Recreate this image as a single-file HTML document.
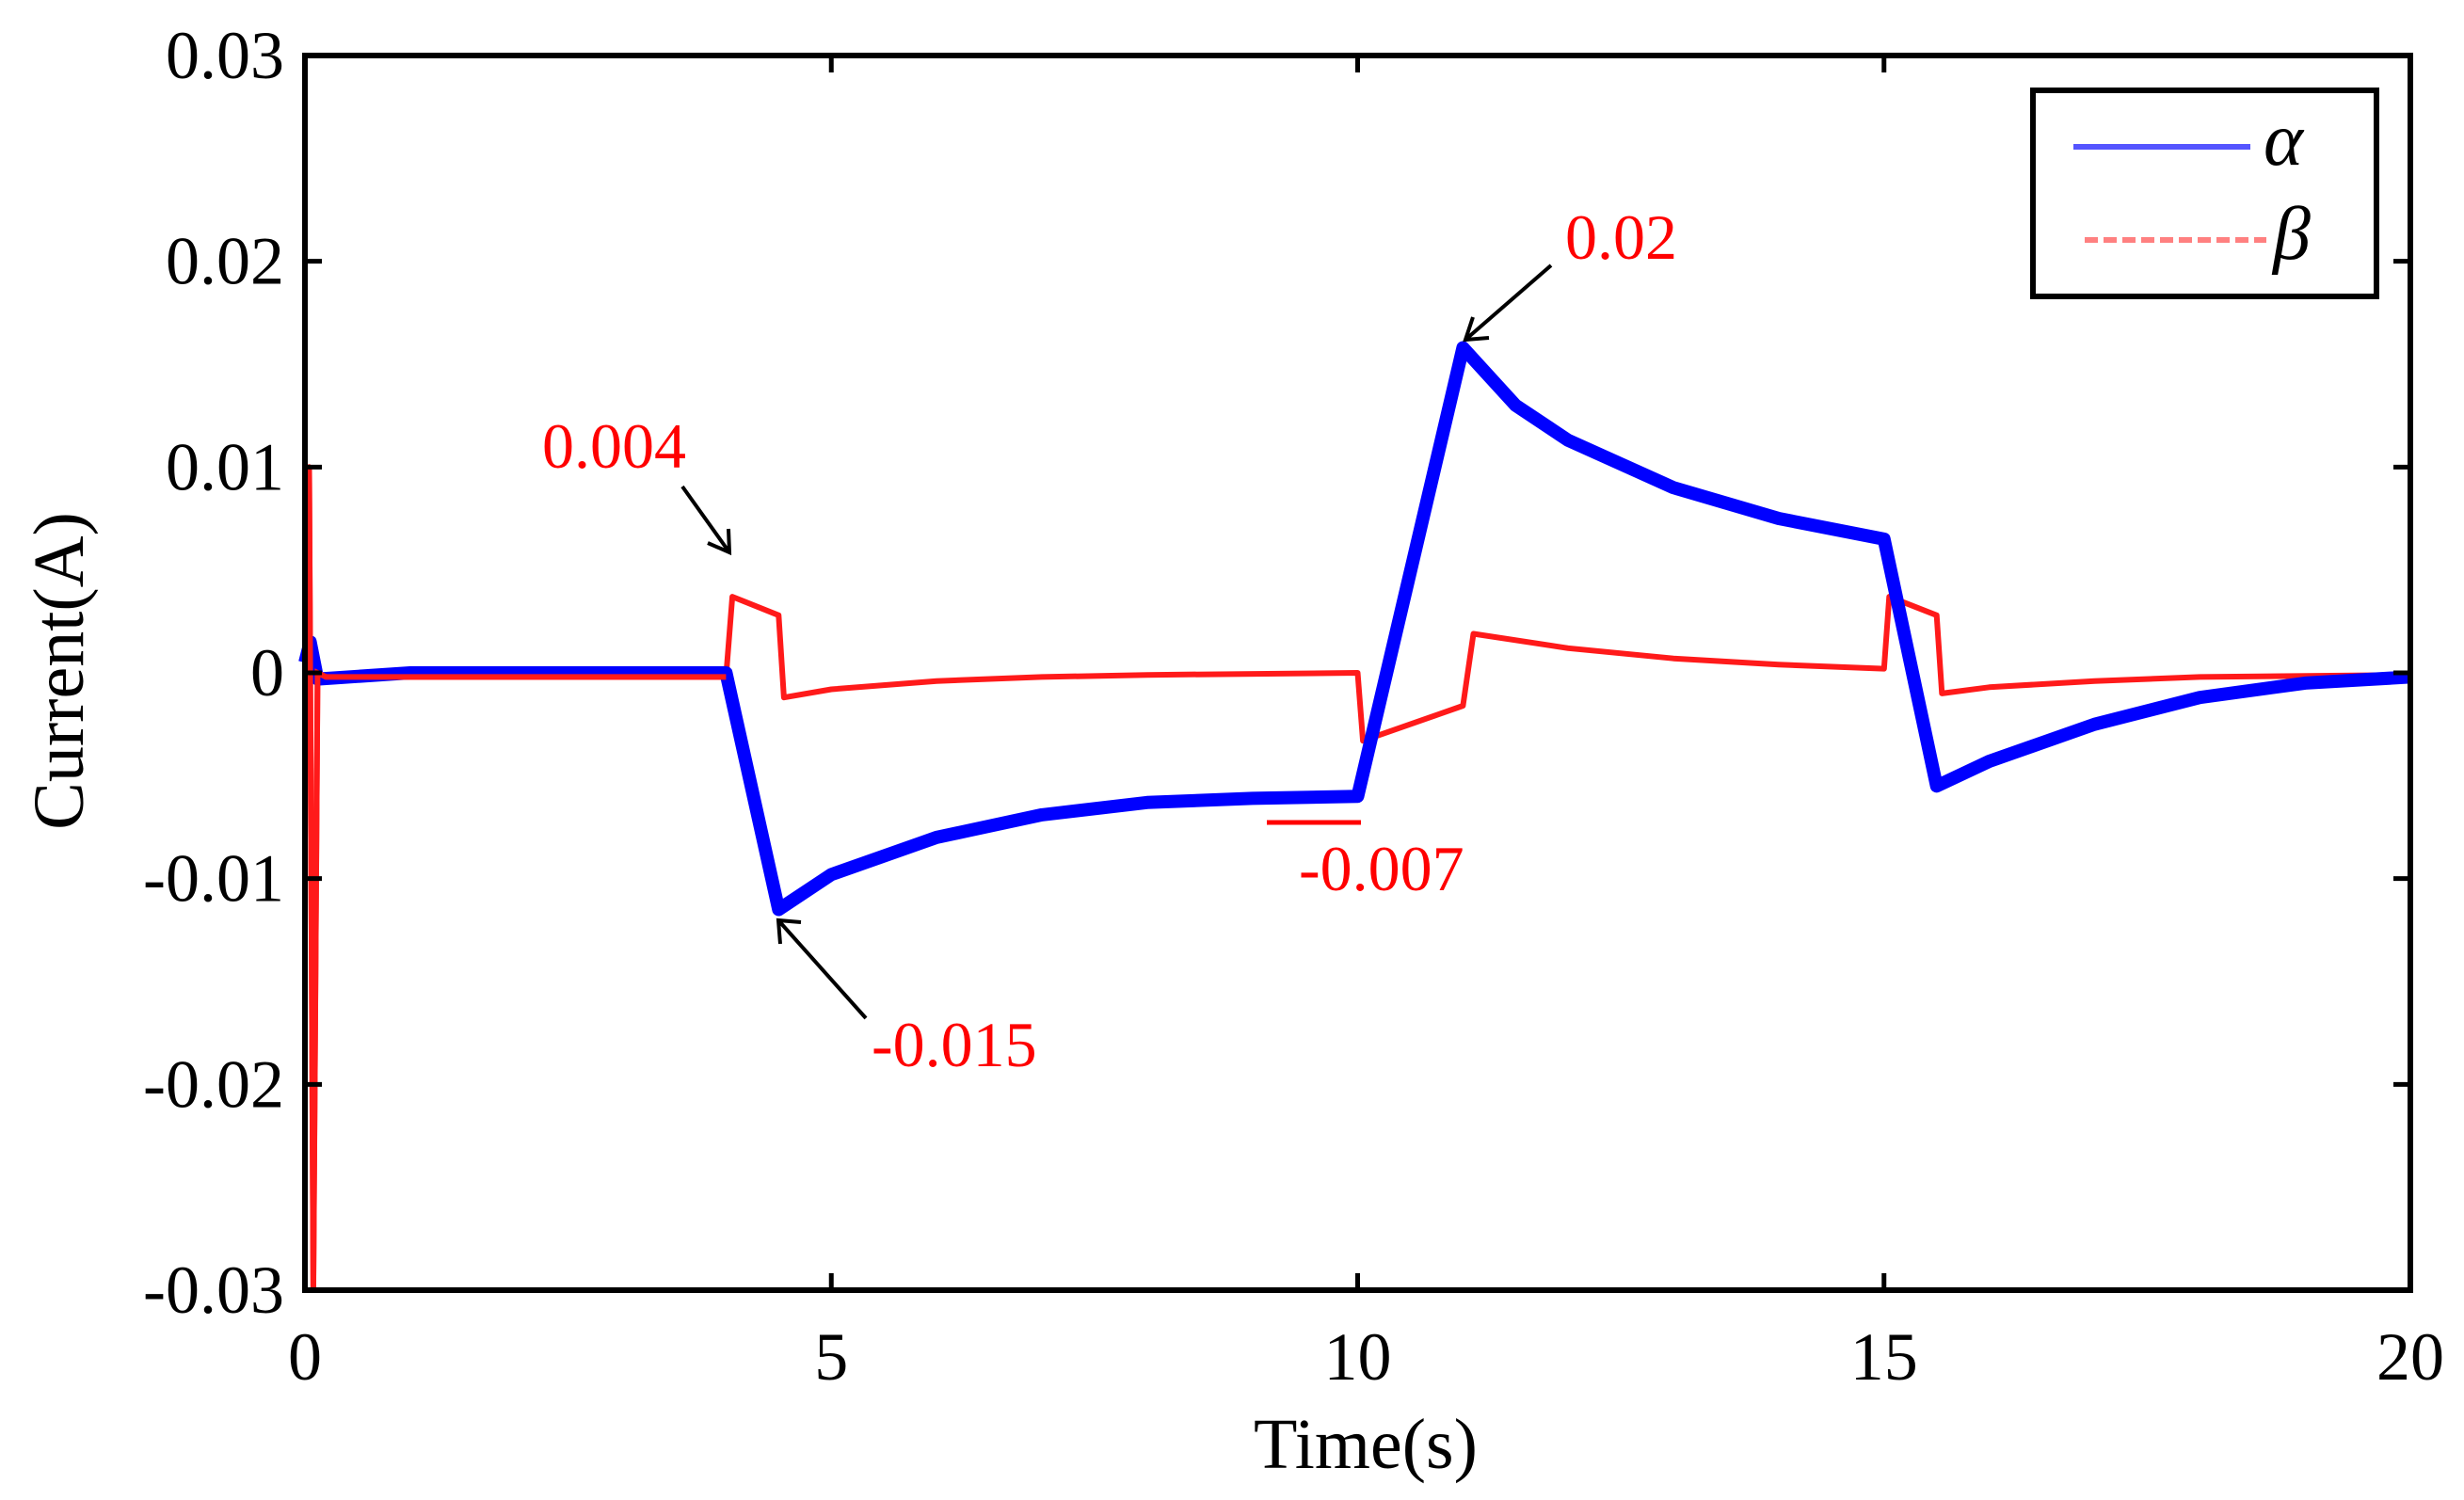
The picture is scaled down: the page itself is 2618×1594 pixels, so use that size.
<!DOCTYPE html>
<html><head><meta charset="utf-8"><style>
html,body{margin:0;padding:0;background:#fff;}
svg{display:block;font-family:"Liberation Serif",serif;}
</style></head><body>
<svg id="chart" width="2618" height="1594" viewBox="0 0 2618 1594" xmlns="http://www.w3.org/2000/svg">
<g id="plot"></g>
<g id="axes"></g>
<text x="1451" y="1560" font-size="76" text-anchor="middle">Time(s)</text>
<text x="0" y="0" font-size="76" text-anchor="middle" transform="translate(88,713) rotate(-90)">Current(A)</text>
<g>
<rect x="2160" y="96" width="365" height="219" fill="#fff" stroke="#000" stroke-width="6"/>
<line x1="2203" y1="156" x2="2391" y2="156" stroke="#5555ff" stroke-width="6"/>
<text x="2405" y="175" font-size="80" font-style="italic">α</text>
<line x1="2215" y1="255" x2="2408" y2="255" stroke="#ff8080" stroke-width="6" stroke-dasharray="14,6"/>
<text x="2415" y="275" font-size="80" font-style="italic">β</text>
</g>
<g fill="red" font-size="68">
<text x="576" y="497">0.004</text>
<text x="926" y="1133">-0.015</text>
<text x="1663" y="275">0.02</text>
<text x="1380" y="946">-0.007</text>
<line x1="1346" y1="874" x2="1446" y2="874" stroke="red" stroke-width="5"/>
</g>
<g stroke="#000" stroke-width="4" fill="none">
<path d="M725 517 L775 587 M752 577 L775 587 L774 562"/>
<path d="M920 1082 L827 978 M829 1003 L827 978 L851 980"/>
<path d="M1648 282 L1557 361 M1565 337 L1557 361 L1582 359"/>
</g>
</svg>
<script>
const xTicks=[0,5,10,15,20];
const yTicks=[0.03,0.02,0.01,0,-0.01,-0.02,-0.03];
const yTickLabels=["0.03","0.02","0.01","0","-0.01","-0.02","-0.03"];
const alphaT=[0,0.05,0.12,1,4.0,4.5,5,6,7,8,9,10.0,11.0,11.5,12,13,14,15.0,15.5,16,17,18,19,20];
const alphaV=[0.0005,0.0015,-0.0003,0,0,-0.0115,-0.0098,-0.0080,-0.0069,-0.0063,-0.0061,-0.006,0.0158,0.0130,0.0113,0.0090,0.0075,0.0065,-0.0055,-0.0043,-0.0025,-0.0012,-0.0005,-0.0002];
const betaT=[0,0.04,0.08,0.12,0.2,4.0,4.06,4.5,4.55,5,6,7,8,10.0,10.05,11.0,11.1,12,13,14,15.0,15.05,15.5,15.55,16,17,18,20];
const betaV=[0,0.01,-0.03,0,-0.0002,-0.0002,0.0037,0.0028,-0.0012,-0.0008,-0.0004,-0.0002,-0.0001,0,-0.0033,-0.0016,0.0019,0.0012,0.0007,0.0004,0.0002,0.0037,0.0028,-0.001,-0.0007,-0.0004,-0.0002,-0.0001];
const L=324,R=2561,T=59,B=1371;
const X=t=>L+(t-0)/(20-0)*(R-L);
const Y=v=>T+(0.03-v)/(0.06)*(B-T);
const NS="http://www.w3.org/2000/svg";
const plot=document.getElementById('plot');
const axes=document.getElementById('axes');
function mk(tag,attrs,parent){const e=document.createElementNS(NS,tag);for(const k in attrs)e.setAttribute(k,attrs[k]);parent.appendChild(e);return e;}
let pb=betaT.map((t,i)=>X(t).toFixed(1)+','+Y(betaV[i]).toFixed(1)).join(' ');
const beta=mk('polyline',{points:pb,fill:'none',stroke:'#ff1a1a','stroke-width':6,'stroke-linejoin':'round'},plot);


let pa=alphaT.map((t,i)=>X(t).toFixed(1)+','+Y(alphaV[i]).toFixed(1)).join(' ');
const alphaBand=mk('polyline',{points:pa,fill:'none',stroke:'#0000ff','stroke-width':14,'stroke-linejoin':'round'},plot);


const beta2=mk('polyline',{points:betaT.slice(0,6).map((t,i)=>X(t)+','+Y(betaV[i])).join(' '),fill:'none',stroke:'#ff1a1a','stroke-width':6},plot);


const frame=mk('rect',{x:L,y:T,width:R-L,height:B-T,fill:'none',stroke:'#000','stroke-width':6},axes);


xTicks.forEach(t=>{
  const x=X(t);
  const tk=mk('path',{d:`M${x} ${B} V${B-18} M${x} ${T} V${T+18}`,stroke:'#000','stroke-width':5},axes);
  
  
  const lb=mk('text',{x:x,y:1466,'font-size':72,'text-anchor':'middle'},axes);
  lb.textContent=String(t);
  
  
});
yTicks.forEach((v,i)=>{
  const y=Y(v);
  const tk=mk('path',{d:`M${L} ${y} H${L+18} M${R} ${y} H${R-18}`,stroke:'#000','stroke-width':5},axes);
  
  
  const lb=mk('text',{x:302,y:y+24,'font-size':72,'text-anchor':'end'},axes);
  lb.textContent=yTickLabels[i];
  
  
});
</script>
</body></html>
